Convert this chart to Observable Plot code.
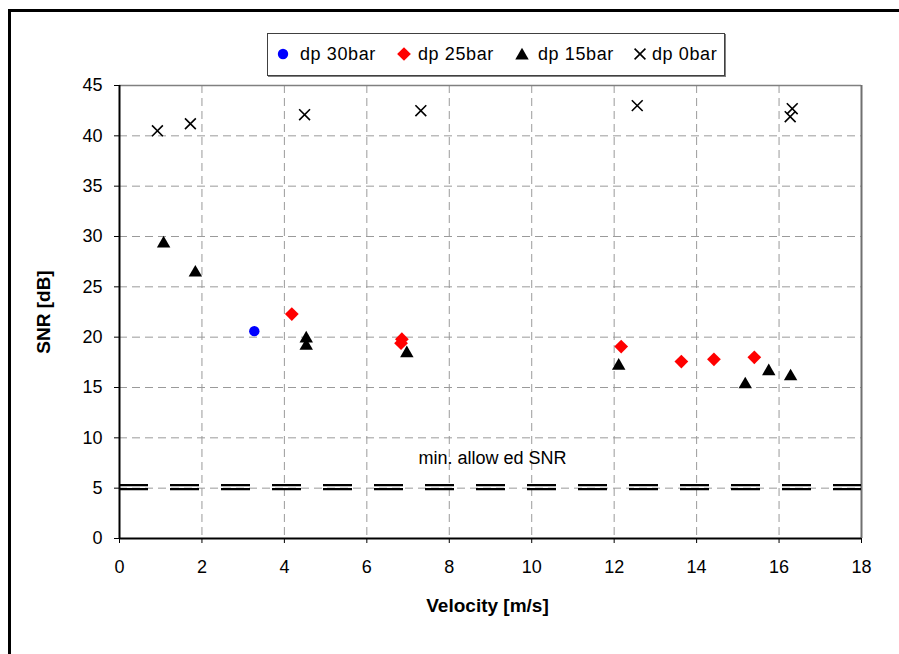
<!DOCTYPE html>
<html>
<head>
<meta charset="utf-8">
<script src="https://cdn.jsdelivr.net/npm/d3@7"></script>
<script src="https://cdn.jsdelivr.net/npm/@observablehq/plot@0.6"></script>
<style>
  html, body { margin: 0; padding: 0; background: #fff; overflow: hidden; }
  #page { position: relative; width: 899px; height: 654px; overflow: hidden; font-family: "Liberation Sans", Arial, sans-serif; }
  #vbar { position: absolute; left: 8px; top: 9px; width: 3px; height: 645px; background: #000; }
  #hbar { position: absolute; left: 8px; top: 9px; width: 891px; height: 3px; background: #000; }
  #chart { position: absolute; left: 0; top: 0; }
  #legend { position: absolute; left: 267px; top: 33px; width: 458px; height: 43px; box-sizing: border-box; border: 1px solid #404040; box-shadow: 1px 1px 0 #808080; background: #fff; }
  #end { position: absolute; left: 0; top: 0; width: 0; height: 0; }
  .item-sw { position: absolute; top: 13px; width: 14px; height: 14px; }
  .item-tx { position: absolute; top: 8px; font-size: 18px; letter-spacing: 0.6px; color: #000; line-height: 24px; white-space: nowrap; }
</style>
</head>
<body>
<div id="page">
  <div id="vbar"></div>
  <div id="hbar"></div>
  <div id="chart"></div>
  <div id="legend"></div>
  <div id="end"></div>
</div>
<script>
// ---- data ----
const seriesNames = ["dp 30bar", "dp 25bar", "dp 15bar", "dp 0bar"];

const velocity30 = [3.27];
const snr30      = [20.6];

const velocity25 = [4.18, 6.85, 6.83, 12.17, 13.63, 14.42, 15.40];
const snr25      = [22.3, 19.8, 19.4, 19.07, 17.58, 17.8, 18.0];

const velocity15 = [1.07, 1.84, 4.53, 4.53, 6.97, 12.11, 15.18, 15.75, 16.28];
const snr15      = [29.5, 26.6, 20.06, 19.33, 18.6, 17.35, 15.5, 16.8, 16.3];

const velocity0  = [0.92, 1.72, 4.49, 7.31, 12.56, 16.32, 16.27];
const snr0       = [40.5, 41.2, 42.1, 42.5, 43.0, 42.7, 41.9];

const minAllowedSNR = [5];
const thresholdLabel = "min. allow ed SNR";

const xTicks = [0, 2, 4, 6, 8, 10, 12, 14, 16, 18];
const yTicks = [0, 5, 10, 15, 20, 25, 30, 35, 40, 45];
const xLabel = "Velocity [m/s]";
const yLabel = "SNR [dB]";

// ---- tables ----
const toRows = (xs, ys) => xs.map((v, i) => ({velocity: v, snr: ys[i]}));
const d30 = toRows(velocity30, snr30);
const d25 = toRows(velocity25, snr25);
const d15 = toRows(velocity15, snr15);
const d0  = toRows(velocity0, snr0);
const annotation = [{velocity: 9.05, snr: minAllowedSNR[0] + 2.95, label: thresholdLabel}];

const gridStyle = {stroke: "#9a9a9a", strokeOpacity: 1, strokeWidth: 1, strokeDasharray: "8,5"};

const chart = Plot.plot({
  width: 899,
  height: 654,
  marginLeft: 119,
  marginRight: 38,
  marginTop: 85,
  marginBottom: 116,
  style: {fontFamily: "'Liberation Sans', Arial, sans-serif", fontSize: "18px", background: "transparent", color: "#000"},
  x: {domain: [0, 18]},
  y: {domain: [0, 45]},
  marks: [
    Plot.gridX(xTicks, gridStyle),
    Plot.gridY(yTicks, gridStyle),
    Plot.ruleY([45], {stroke: "#808080", strokeWidth: 1.5}),
    Plot.ruleX([18], {stroke: "#707070", strokeWidth: 2}),
    Plot.ruleY(minAllowedSNR, {stroke: "#000", strokeWidth: 2.4, strokeDasharray: "29,22", dy: -3}),
    Plot.ruleY(minAllowedSNR, {stroke: "#000", strokeWidth: 2.4, strokeDasharray: "29,22", dy: 1}),
    Plot.ruleX([0], {stroke: "#000", strokeWidth: 2}),
    Plot.ruleY([0], {stroke: "#000", strokeWidth: 2}),
    Plot.axisX({ticks: xTicks, tickSize: 5, tickPadding: 17, label: null, fontSize: 18}),
    Plot.axisY({ticks: yTicks, tickSize: 5, tickPadding: 12, label: null, fontSize: 18}),
    Plot.text([xLabel], {frameAnchor: "bottom", dy: 67, dx: -3, textAnchor: "middle", lineAnchor: "middle", fontWeight: "bold", fontSize: 19, letterSpacing: "1.4px"}),
    Plot.text([yLabel], {frameAnchor: "left", dx: -76, textAnchor: "middle", lineAnchor: "middle", rotate: -90, fontWeight: "bold", fontSize: 19, letterSpacing: "0.5px"}),
    Plot.text(annotation, {x: "velocity", y: "snr", text: "label", fontSize: 18}),
    Plot.dot(d0,  {x: "velocity", y: "snr", symbol: "times", r: 5, stroke: "#000", strokeWidth: 1.6}),
    Plot.dot(d15, {x: "velocity", y: "snr", symbol: "triangle", r: 5, fill: "#000", stroke: "none", dy: 2}),
    Plot.dot(d25, {x: "velocity", y: "snr", symbol: "diamond2", r: 6.2, fill: "#ff0000", stroke: "none"}),
    Plot.dot(d30, {x: "velocity", y: "snr", symbol: "circle", r: 5.2, fill: "#0000ff", stroke: "none"})
  ]
});
document.getElementById("chart").appendChild(chart);

// ---- legend ----
const legendSymbols = [
  {sym: d3.symbolCircle, size: 85, fill: "#0000ff", stroke: "none", sw: 0},
  {sym: d3.symbolDiamond2, size: 120, fill: "#ff0000", stroke: "none", sw: 0},
  {sym: d3.symbolTriangle, size: 78.5, fill: "#000", stroke: "none", sw: 0},
  {sym: d3.symbolTimes, size: 78.5, fill: "none", stroke: "#000", sw: 1.6}
];
const swLeft = [8, 129, 247, 365];
const txLeft = [32, 150, 270, 384];
const legend = d3.select("#legend");
seriesNames.forEach((name, i) => {
  const s = legendSymbols[i];
  const svg = legend.append("svg").attr("class", "item-sw").style("left", swLeft[i] + "px")
    .attr("width", 14).attr("height", 14).attr("viewBox", "-7 -7 14 14");
  svg.append("path")
    .attr("d", d3.symbol(s.sym, s.size)())
    .attr("transform", i === 2 ? "translate(0,1.5)" : null)
    .attr("fill", s.fill).attr("stroke", s.stroke).attr("stroke-width", s.sw);
  legend.append("div").attr("class", "item-tx").style("left", txLeft[i] + "px").text(name);
});
</script>
</body>
</html>
